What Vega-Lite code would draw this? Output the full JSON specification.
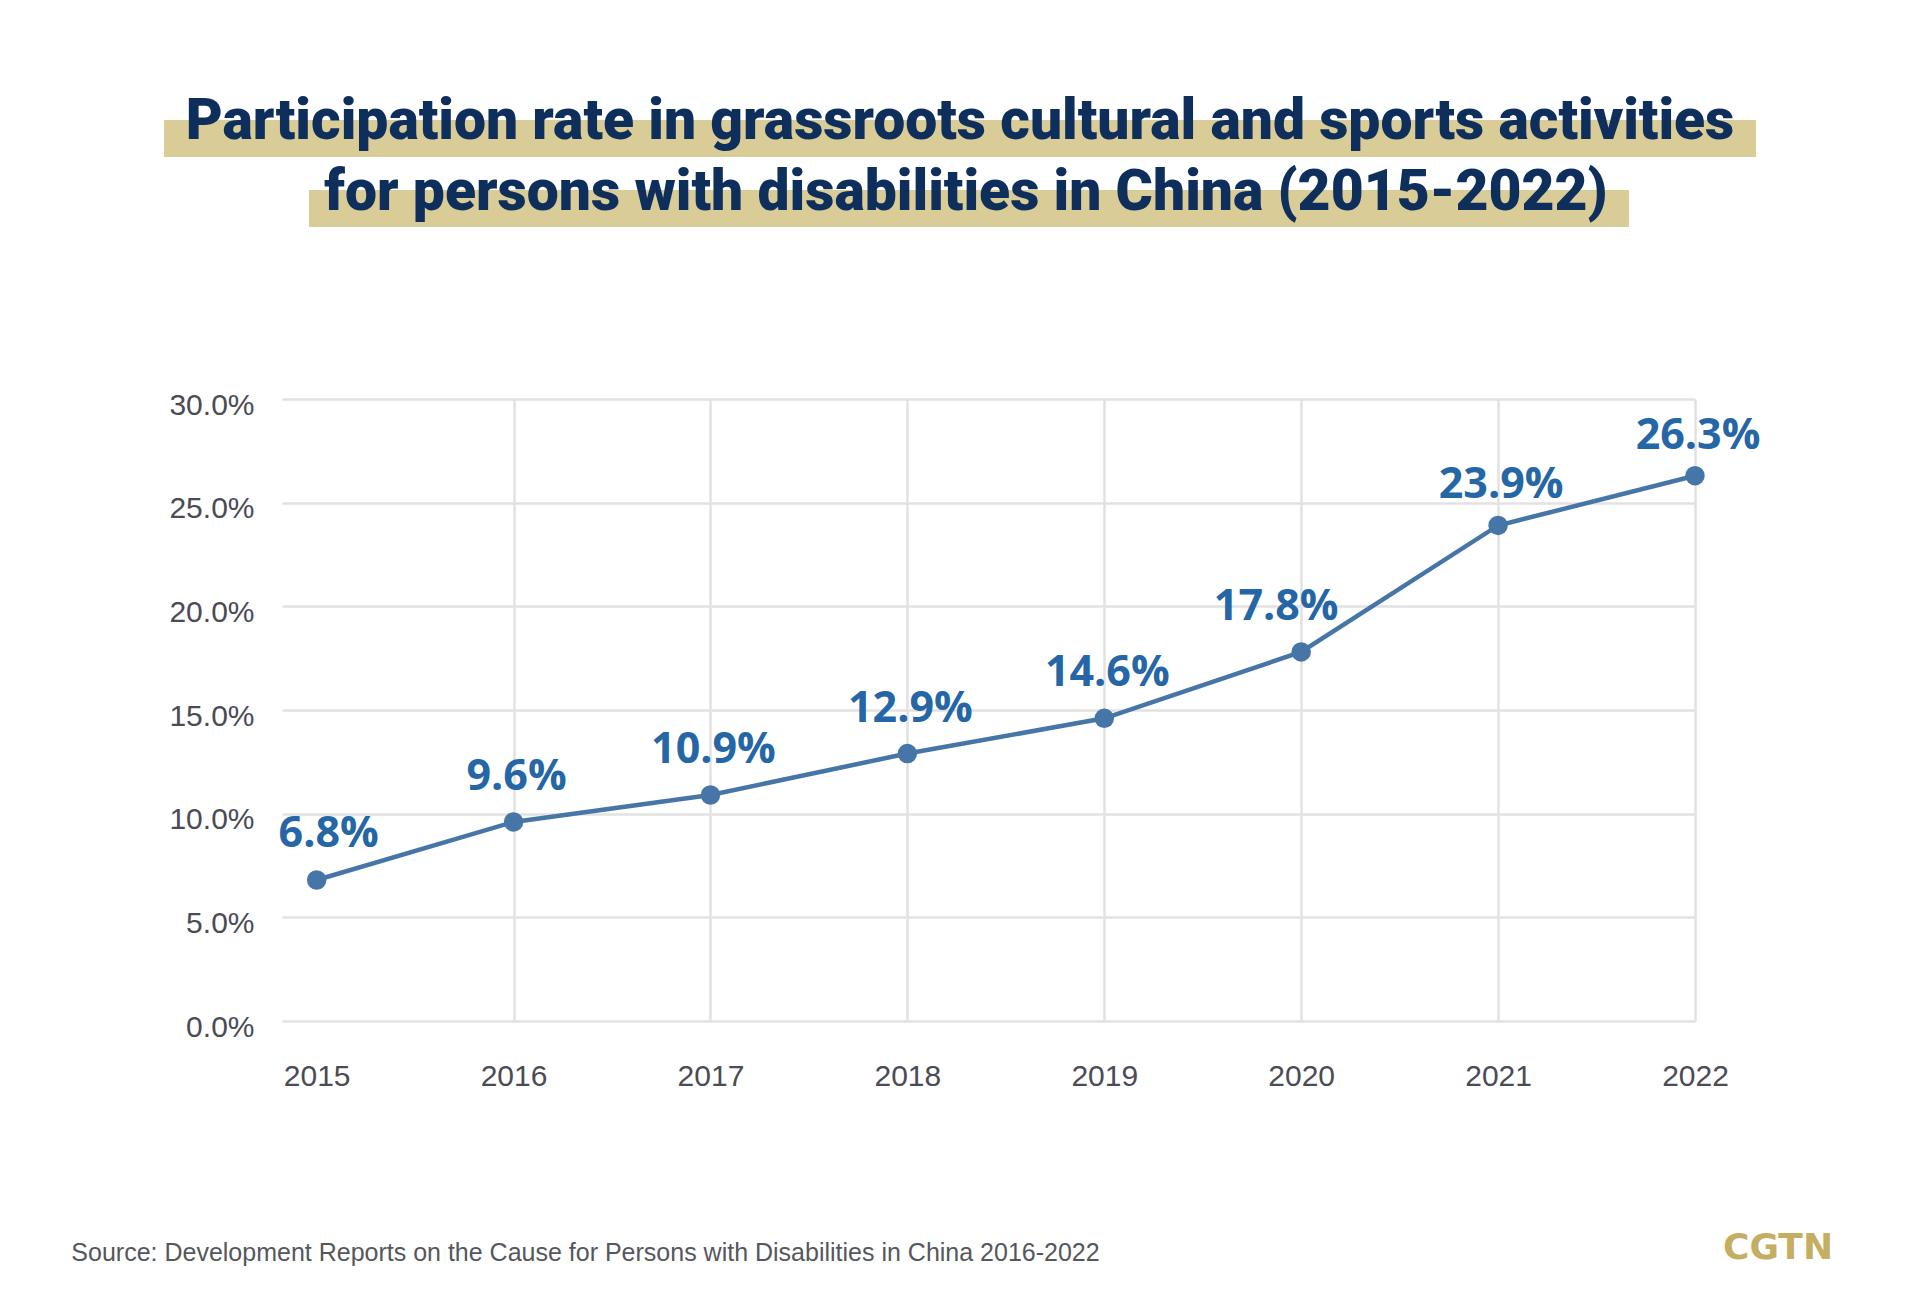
{
  "$schema": "https://vega.github.io/schema/vega-lite/v6.json",
  "padding": {"left": 0, "top": 93, "right": 0, "bottom": 0},
  "background": "white",
  "spacing": 0,
  "config": {"view": {"stroke": null}},
  "vconcat": [
    {
      "bounds": "flush", "spacing": 0,
      "hconcat": [
        {"width": 164, "height": 44, "data": {"values": [{}]}, "mark": {"type": "text"}, "encoding": {"text": {"value": ""}}},
        {
          "width": 1592, "height": 37,
          "data": {"values": [{"t": "Participation rate in grassroots cultural and sports activities"}]},
          "layer": [
            {"mark": {"type": "rect", "color": "#d9cc97"}, "encoding": {}},
            {"mark": {"type": "text", "font": "Roboto", "fontWeight": 900, "fontSize": 57, "color": "#0e2e5b", "baseline": "alphabetic", "align": "center", "dy": 0.5}, "encoding": {"text": {"field": "t"}}}
          ]
        }
      ]
    },
    {
      "bounds": "flush", "spacing": 0,
      "hconcat": [
        {"width": 309, "height": 200, "data": {"values": [{}]}, "mark": {"type": "text"}, "encoding": {"text": {"value": ""}}},
        {
          "width": 1320, "height": 37,
          "data": {"values": [{"t": "for persons with disabilities in China (2015-2022)"}]},
          "layer": [
            {"mark": {"type": "rect", "color": "#d9cc97"}, "encoding": {}},
            {"mark": {"type": "text", "font": "Roboto", "fontWeight": 900, "fontSize": 57, "color": "#0e2e5b", "baseline": "alphabetic", "align": "center", "dy": 1.5, "dx": -3}, "encoding": {"text": {"field": "t"}}}
          ]
        }
      ]
    },
    {
      "bounds": "flush", "spacing": 0,
      "hconcat": [
        {"width": 282, "height": 828, "data": {"values": [{}]}, "mark": {"type": "text"}, "encoding": {"text": {"value": ""}}},
        {
          "width": 1413, "height": 622,
          "data": {"values": [
            {"year": 2015, "rate": 0.068},
            {"year": 2016, "rate": 0.096},
            {"year": 2017, "rate": 0.109},
            {"year": 2018, "rate": 0.129},
            {"year": 2019, "rate": 0.146},
            {"year": 2020, "rate": 0.178},
            {"year": 2021, "rate": 0.239},
            {"year": 2022, "rate": 0.263}
          ]},
          "encoding": {
            "x": {
              "field": "year", "type": "quantitative",
              "scale": {"domain": [2014.824, 2022], "nice": false, "zero": false},
              "axis": {
                "title": null, "values": [2015, 2016, 2017, 2018, 2019, 2020, 2021, 2022], "format": "d",
                "labelFont": "Liberation Sans", "labelFontSize": 30, "labelColor": "#4b4b55",
                "labelPadding": 40, "labelFlush": false, "labelOverlap": false,
                "ticks": false, "domain": false,
                "grid": true, "gridColor": "#e2e2e2", "gridWidth": 2.5,
                "gridOpacity": {"condition": {"test": "datum.value == 2015", "value": 0}, "value": 1}
              }
            },
            "y": {
              "field": "rate", "type": "quantitative",
              "scale": {"domain": [0, 0.3], "nice": false, "zero": true},
              "axis": {
                "title": null, "values": [0, 0.05, 0.1, 0.15, 0.2, 0.25, 0.3], "format": ".1%",
                "labelFont": "Liberation Sans", "labelFontSize": 30, "labelColor": "#4b4b55",
                "labelPadding": 28, "labelOffset": 6, "labelFlush": false, "labelOverlap": false,
                "ticks": false, "domain": false,
                "grid": true, "gridColor": "#e2e2e2", "gridWidth": 2.5
              }
            }
          },
          "layer": [
            {"mark": {"type": "line", "color": "#4676a8", "strokeWidth": 4.5}},
            {"mark": {"type": "point", "filled": true, "opacity": 1, "color": "#4676a8", "size": 380}},
            {
              "transform": [{"filter": "datum.year >= 2016 && datum.year <= 2019"}],
              "mark": {"type": "text", "font": "Open Sans", "fontWeight": "bold", "fontSize": 43, "color": "#2566a6", "baseline": "alphabetic", "align": "center", "dy": -32, "dx": 3},
              "encoding": {"text": {"field": "rate", "type": "quantitative", "format": ".1%"}}
            },
            {
              "transform": [{"filter": "datum.year >= 2021"}],
              "mark": {"type": "text", "font": "Open Sans", "fontWeight": "bold", "fontSize": 43, "color": "#2566a6", "baseline": "alphabetic", "align": "center", "dy": -27, "dx": 3},
              "encoding": {"text": {"field": "rate", "type": "quantitative", "format": ".1%"}}
            },
            {
              "transform": [{"filter": "datum.year == 2015"}],
              "mark": {"type": "text", "font": "Open Sans", "fontWeight": "bold", "fontSize": 43, "color": "#2566a6", "baseline": "alphabetic", "align": "center", "dy": -33, "dx": 12},
              "encoding": {"text": {"field": "rate", "type": "quantitative", "format": ".1%"}}
            },
            {
              "transform": [{"filter": "datum.year == 2020"}],
              "mark": {"type": "text", "font": "Open Sans", "fontWeight": "bold", "fontSize": 43, "color": "#2566a6", "baseline": "alphabetic", "align": "center", "dy": -32, "dx": -25},
              "encoding": {"text": {"field": "rate", "type": "quantitative", "format": ".1%"}}
            }
          ]
        }
      ]
    },
    {
      "bounds": "flush", "spacing": 0,
      "hconcat": [
        {
          "width": 1171, "height": 40,
          "data": {"values": [{"t": "Source: Development Reports on the Cause for Persons with Disabilities in China 2016-2022"}]},
          "mark": {"type": "text", "font": "Liberation Sans", "fontSize": 25, "color": "#55575c", "baseline": "middle", "align": "center"},
          "encoding": {"text": {"field": "t"}}
        },
        {"width": 552, "height": 1, "data": {"values": [{}]}, "mark": {"type": "text"}, "encoding": {"text": {"value": ""}}},
        {
          "width": 110, "height": 30,
          "data": {"values": [{"t": "CGTN"}]},
          "mark": {"type": "text", "font": "DejaVu Sans", "fontWeight": "bold", "fontSize": 36, "color": "#c4ae62", "baseline": "middle", "align": "center"},
          "encoding": {"text": {"field": "t"}}
        }
      ]
    }
  ]
}
